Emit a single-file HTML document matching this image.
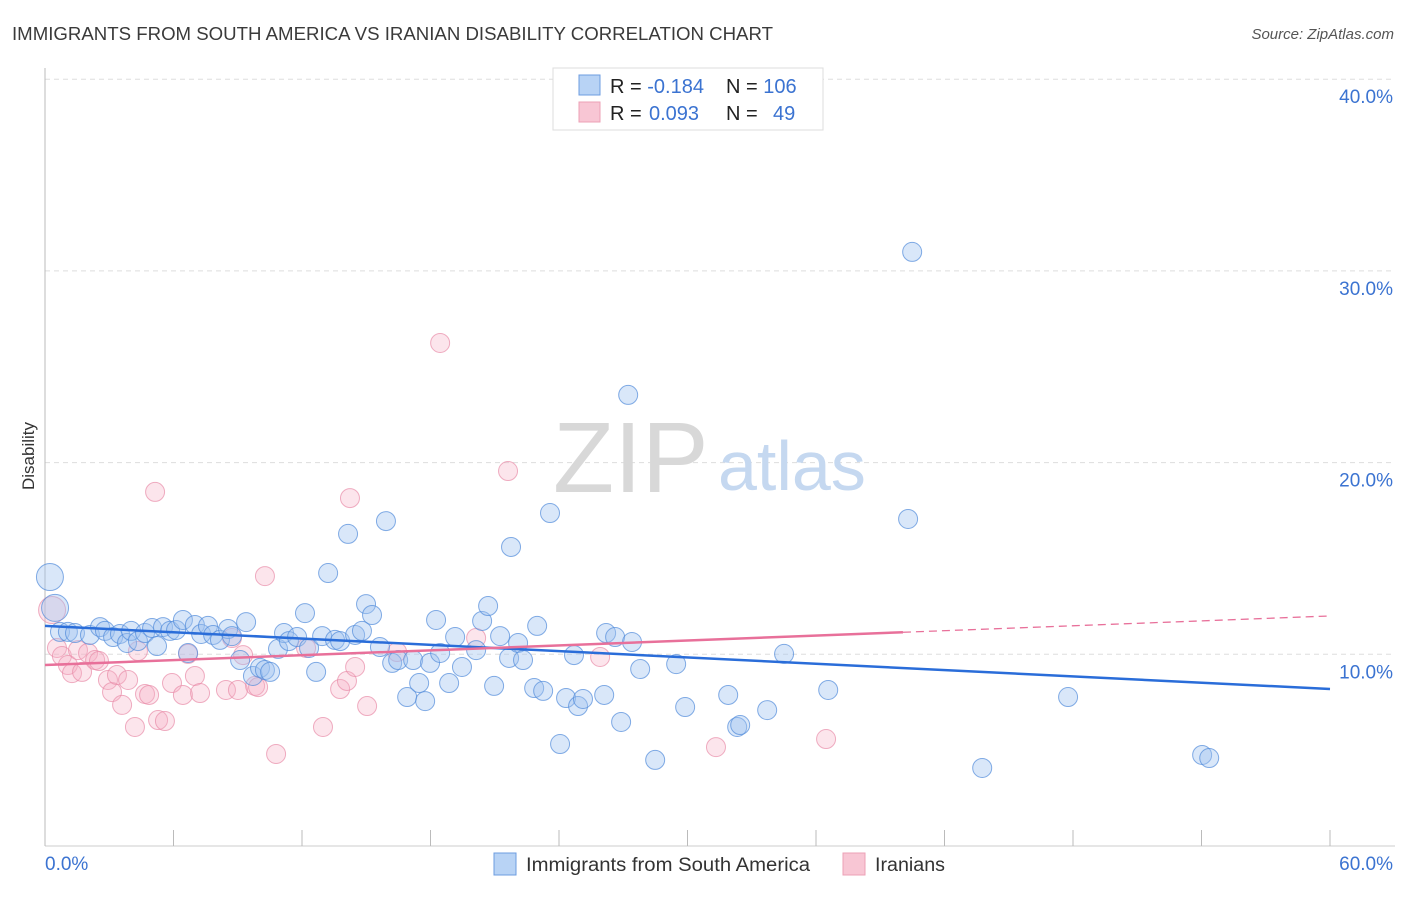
<!DOCTYPE html>
<html><head><meta charset="utf-8"><style>
body{margin:0;background:#fff;font-family:"Liberation Sans",sans-serif;}
svg text{font-family:"Liberation Sans",sans-serif;}
</style></head><body>
<svg id="chart" width="1406" height="892" xmlns="http://www.w3.org/2000/svg">
<text x="12" y="40" font-size="18" fill="#3a3a3a" textLength="761" lengthAdjust="spacingAndGlyphs">IMMIGRANTS FROM SOUTH AMERICA VS IRANIAN DISABILITY CORRELATION CHART</text>
<text x="1394" y="39" font-size="15" fill="#555" font-style="italic" text-anchor="end">Source: ZipAtlas.com</text>
<g id="grid"></g>
<g><text x="553" y="492" font-size="100" fill="#d8d8d8" font-family="Liberation Serif" >ZIP</text><text x="718" y="490" font-size="70" fill="#c5d8f0">atlas</text></g>
<g id="axes"></g>
<g id="marks"></g>
<text transform="translate(34,456) rotate(-90)" font-size="17" fill="#333" text-anchor="middle">Disability</text>
<g>
<rect x="553" y="68" width="270" height="62" fill="#fff" stroke="#ddd"/>
<rect x="579" y="75" width="21" height="20" fill="#b8d3f5" stroke="#6d9de0"/>
<rect x="579" y="102" width="21" height="20" fill="#f8c6d4" stroke="#eca0b6"/>
<text x="610" y="93" font-size="20" fill="#222">R = <tspan fill="#3b73d1">-0.184</tspan></text>
<text x="726" y="93" font-size="20" fill="#222">N = <tspan fill="#3b73d1">106</tspan></text>
<text x="610" y="120" font-size="20" fill="#222">R = </text>
<text x="649" y="120" font-size="20" fill="#3b73d1">0.093</text>
<text x="726" y="120" font-size="20" fill="#222">N = </text>
<text x="773" y="120" font-size="20" fill="#3b73d1">49</text>
</g>
<g>
<rect x="494" y="853" width="22" height="22" fill="#b8d3f5" stroke="#6d9de0"/>
<text x="526" y="871" font-size="19" fill="#333" textLength="284" lengthAdjust="spacingAndGlyphs">Immigrants from South America</text>
<rect x="843" y="853" width="22" height="22" fill="#f8c6d4" stroke="#eca0b6"/>
<text x="875" y="871" font-size="19" fill="#333" textLength="70" lengthAdjust="spacingAndGlyphs">Iranians</text>
</g>
</svg>
<script>
const yTicks=[10,20,30,40];
const yTickLabels=["10.0%","20.0%","30.0%","40.0%"];
const xTickCount=10;
const xEndLabels=["0.0%","60.0%"];
const blueX=[0.23,0.47,0.70,1.07,1.40,2.10,2.57,2.80,3.18,3.50,3.83,4.02,4.34,4.67,5.00,5.23,5.51,5.84,6.12,6.44,6.68,7.00,7.29,7.61,7.85,8.17,8.55,8.73,9.11,9.39,9.71,10.04,10.27,10.51,10.88,11.16,11.39,11.77,12.14,12.33,12.66,12.94,13.22,13.54,13.78,14.15,14.48,14.80,14.99,15.27,15.64,15.92,16.21,16.49,16.91,17.19,17.47,17.75,17.98,18.26,18.45,18.87,19.15,19.47,20.13,20.41,20.69,20.97,21.25,21.67,21.76,22.09,22.32,22.98,22.84,23.26,23.58,24.05,24.33,24.89,25.12,26.11,26.20,26.62,26.90,27.23,27.41,27.79,28.49,29.47,29.89,31.90,32.32,32.46,33.72,34.51,36.57,40.30,40.49,43.76,47.77,54.03,54.36,24.70];
const blueY=[14.03,12.42,11.17,11.17,11.11,11.01,11.42,11.22,10.90,11.06,10.59,11.22,10.69,11.11,11.37,10.43,11.42,11.22,11.27,11.79,10.07,11.53,11.06,11.48,11.01,10.75,11.32,10.95,9.70,11.68,8.87,9.29,9.18,9.08,10.28,11.11,10.69,10.90,12.15,10.33,9.08,10.95,14.24,10.75,10.69,16.28,11.01,11.22,12.62,12.05,10.38,16.95,9.55,9.70,7.77,9.70,8.50,7.56,9.55,11.79,10.07,8.50,10.90,9.34,10.22,11.74,12.52,8.35,10.95,9.81,15.60,10.59,9.70,11.48,8.24,8.09,17.37,5.32,7.72,7.30,7.67,7.88,11.11,10.90,6.47,23.53,10.64,9.23,4.49,9.49,7.25,7.88,6.21,6.31,7.09,10.02,8.14,17.06,30.99,4.07,7.77,4.75,4.59,9.96];
const pinkX=[0.33,0.56,0.79,1.07,1.26,1.54,1.73,2.01,2.34,2.52,2.94,3.13,3.36,3.60,3.88,4.20,4.34,4.67,4.86,5.14,5.28,5.60,5.93,6.44,6.68,7.00,7.24,8.45,9.01,9.25,9.81,9.95,10.27,10.79,12.19,12.98,13.78,14.10,14.24,14.48,15.04,16.44,18.45,20.13,21.62,25.92,31.33,36.47,8.73];
const pinkY=[12.31,10.33,9.91,9.44,9.02,10.22,9.08,10.07,9.70,9.65,8.66,8.03,8.92,7.36,8.66,6.21,10.17,7.93,7.88,18.47,6.57,6.52,8.50,7.88,10.02,8.87,7.98,8.14,8.14,9.96,8.35,8.29,14.08,4.80,10.33,6.21,8.19,8.61,18.15,9.34,7.30,10.12,26.24,10.85,19.56,9.86,5.16,5.58,10.85];
const blueTrend=[11.48,8.19];
const pinkTrend=[9.44,12.0];
const pinkSolidEnd=40.06;

const X0=45,X1=1330,Y0=846,PPY=19.17;
const xs=v=>X0+(v/60)*(X1-X0);
const ys=v=>Y0-v*PPY;
const NS="http://www.w3.org/2000/svg";
function mk(tag,attrs,parent){const e=document.createElementNS(NS,tag);for(const k in attrs)e.setAttribute(k,attrs[k]);parent.appendChild(e);return e;}
const grid=document.getElementById('grid'),axes=document.getElementById('axes'),marks=document.getElementById('marks');
yTicks.forEach((t,i)=>{
  const l=mk('line',{x1:X0,x2:1395,y1:ys(t),y2:ys(t),stroke:'#ddd','stroke-dasharray':'5,4'},grid);
  
  
  const tx=mk('text',{x:1393,y:ys(t)+24,'font-size':19,fill:'#3b73d1','text-anchor':'end'},axes);
  tx.textContent=yTickLabels[i];
  
  
});
const al=mk('line',{x1:X0,x2:X0,y1:68,y2:Y0,stroke:'#bbb'},axes);


const bl=mk('line',{x1:X0,x2:1395,y1:Y0,y2:Y0,stroke:'#ccc'},axes);


for(let i=0;i<=xTickCount;i++){
  const v=60*i/xTickCount;
  const t=mk('line',{x1:xs(v),x2:xs(v),y1:830,y2:Y0,stroke:'#bbb'},axes);
  
  
}
const xl0=mk('text',{x:45,y:870,'font-size':19,fill:'#3b73d1'},axes);xl0.textContent=xEndLabels[0];


const xl1=mk('text',{x:1393,y:870,'font-size':19,fill:'#3b73d1','text-anchor':'end'},axes);xl1.textContent=xEndLabels[1];



function dots(X,Y,fill,stroke,name){
  X.forEach((x,i)=>{
    const r=(x<0.5)?13.5:9.5;
    const c=mk('circle',{cx:xs(x),cy:ys(Y[i]),r:r,fill:fill,stroke:stroke,'stroke-width':1},marks);
    
    
  });
}
dots(pinkX,pinkY,'rgba(246,175,196,0.33)','rgba(232,140,168,0.7)','iranians-point');
dots(blueX,blueY,'rgba(160,196,240,0.4)','rgba(80,138,218,0.7)','immigrants-point');
const bt=mk('line',{x1:xs(0),y1:ys(blueTrend[0]),x2:xs(60),y2:ys(blueTrend[1]),stroke:'#2a6dd9','stroke-width':2.5},marks);


const pe=pinkTrend[0]+(pinkTrend[1]-pinkTrend[0])*pinkSolidEnd/60;
const pt=mk('line',{x1:xs(0),y1:ys(pinkTrend[0]),x2:xs(pinkSolidEnd),y2:ys(pe),stroke:'#e8709a','stroke-width':2.5},marks);


const pd=mk('line',{x1:xs(pinkSolidEnd),y1:ys(pe),x2:xs(60),y2:ys(pinkTrend[1]),stroke:'#e8709a','stroke-width':1.3,'stroke-dasharray':'8,5'},marks);


</script>
</body></html>
